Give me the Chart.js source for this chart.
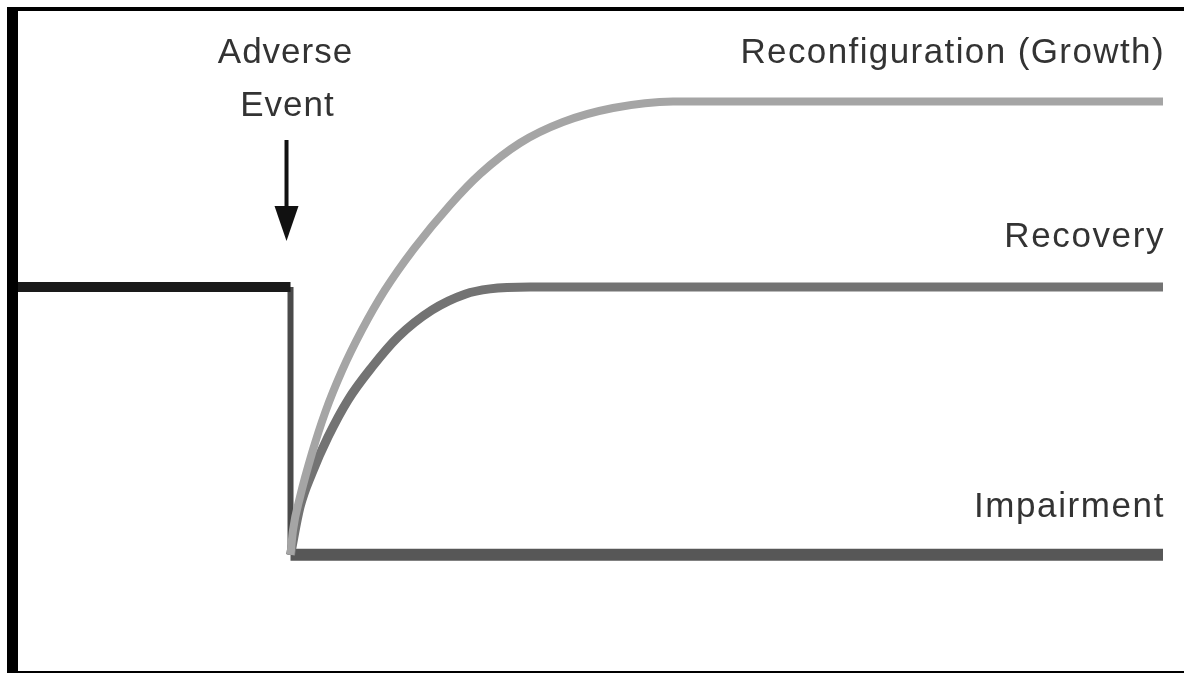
<!DOCTYPE html>
<html>
<head>
<meta charset="utf-8">
<script src="https://cdn.jsdelivr.net/npm/chart.js@4/dist/chart.umd.min.js"></script>
<style>
  html, body { margin: 0; padding: 0; background: #fff; }
  #frame {
    position: absolute; left: 7px; top: 7px; width: 1177px; height: 666px;
    box-sizing: border-box;
    border-top: 4px solid #000; border-left: 11px solid #000; border-bottom: 2px solid #000;
  }
  #c { position: absolute; left: 0; top: 0; }
</style>
</head>
<body>
<div id="frame"></div>
<canvas id="c" width="1184" height="673"></canvas>
<script>
// ---- data (time on x, level of functioning on y) ----
const eventX = 23.8;

const preEventX = [0, 23.8];
const preEventY = [58.2, 58.2];

const dropX = [23.8, 23.8];
const dropY = [58.2, 17.6];

const impairmentX = [23.8, 100];
const impairmentY = [17.6, 17.6];

const recoveryX = [23.8, 24.63, 25.68, 27.07, 28.82, 30.92, 33.19, 36.16, 39.04, 41.22, 44.72, 100];
const recoveryY = [17.6, 24.85, 30.0, 35.45, 41.06, 46.06, 50.61, 54.7, 57.1, 57.9, 58.18, 58.2];

const growthX = [23.8, 24.02, 24.63, 25.68, 26.81, 28.3, 30.04, 32.05, 34.59, 37.73, 40.35, 43.84, 47.6, 51.97, 57.21, 100];
const growthY = [17.6, 21.36, 26.36, 33.03, 39.09, 45.5, 51.67, 57.73, 64.0, 70.6, 75.3, 80.0, 83.18, 85.3, 86.3, 86.3];

const eventLabel = ["Adverse", "Event"];
const seriesLabels = ["Reconfiguration (Growth)", "Recovery", "Impairment"];

const pts = (xs, ys) => xs.map((x, i) => ({ x: x, y: ys[i] }));

const annotations = {
  id: 'annotations',
  afterDatasetsDraw(chart) {
    const ctx = chart.ctx;
    const xs = chart.scales.x;
    const ex = xs.getPixelForValue(eventX) - 4;
    ctx.save();
    // arrow
    ctx.strokeStyle = '#111';
    ctx.fillStyle = '#111';
    ctx.lineWidth = 4;
    ctx.beginPath();
    ctx.moveTo(ex, 140);
    ctx.lineTo(ex, 212);
    ctx.stroke();
    ctx.beginPath();
    ctx.moveTo(ex - 12, 206);
    ctx.lineTo(ex + 12, 206);
    ctx.lineTo(ex, 241);
    ctx.closePath();
    ctx.fill();
    // texts
    ctx.fillStyle = '#333';
    ctx.font = '35px "Liberation Sans", Arial, sans-serif';
    ctx.letterSpacing = '1px';
    ctx.textBaseline = 'alphabetic';
    ctx.textAlign = 'center';
    ctx.fillText(eventLabel[0], ex - 1, 63);
    ctx.fillText(eventLabel[1], ex + 1, 116);
    ctx.textAlign = 'right';
    const rx = xs.getPixelForValue(100) + 2;
    ctx.letterSpacing = '1.4px';
    ctx.fillText(seriesLabels[0], rx, 63);
    ctx.letterSpacing = '1.6px';
    ctx.fillText(seriesLabels[1], rx, 247);
    ctx.fillText(seriesLabels[2], rx, 517);
    ctx.restore();
  }
};

new Chart(document.getElementById('c'), {
  type: 'line',
  data: {
    datasets: [
      { label: seriesLabels[0], data: pts(growthX, growthY), borderColor: '#a5a5a5', borderWidth: 8, cubicInterpolationMode: 'monotone', order: 1 },
      { label: seriesLabels[1], data: pts(recoveryX, recoveryY), borderColor: '#737373', borderWidth: 9, cubicInterpolationMode: 'monotone', order: 2 },
      { label: seriesLabels[2], data: pts(impairmentX, impairmentY), borderColor: '#575757', borderWidth: 12, order: 3 },
      { label: 'drop', data: pts(dropX, dropY), borderColor: '#4a4a4a', borderWidth: 6, order: 4 },
      { label: 'baseline', data: pts(preEventX, preEventY), borderColor: '#1a1a1a', borderWidth: 10, order: 0 }
    ]
  },
  options: {
    responsive: false,
    animation: false,
    events: [],
    layout: { padding: { left: 18, right: 21, top: 11, bottom: 2 } },
    elements: { point: { radius: 0 }, line: { borderCapStyle: 'butt', borderJoinStyle: 'miter' } },
    plugins: { legend: { display: false }, tooltip: { enabled: false } },
    scales: {
      x: { type: 'linear', min: 0, max: 100, display: false },
      y: { type: 'linear', min: 0, max: 100, display: false }
    }
  },
  plugins: [annotations]
});
</script>
</body>
</html>
